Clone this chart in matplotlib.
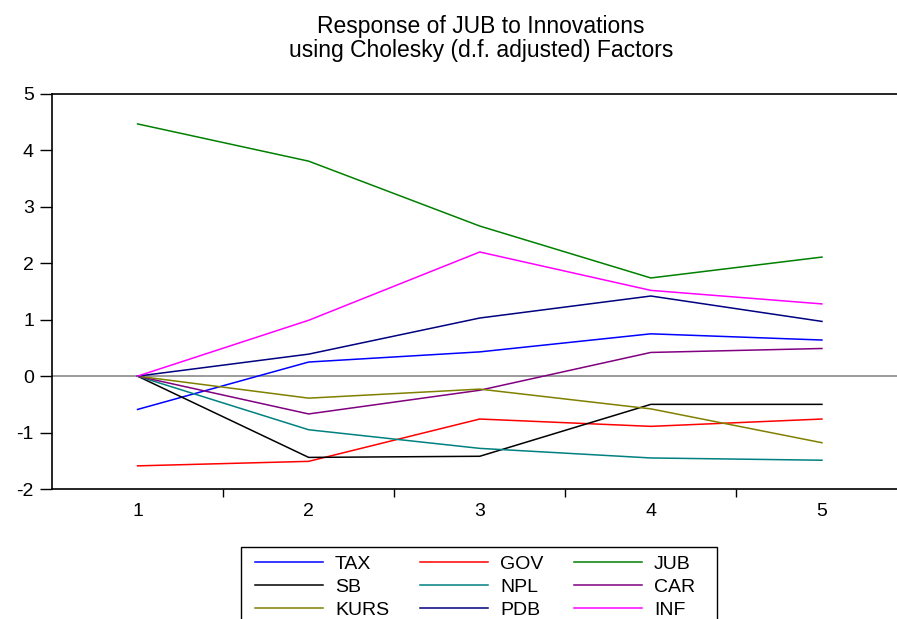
import matplotlib.pyplot as plt
from matplotlib.patches import Rectangle

plt.rcParams['font.family'] = ['Liberation Sans', 'DejaVu Sans']
plt.rcParams['axes.unicode_minus'] = False

# Response periods
periods = [1, 2, 3, 4, 5]

# Impulse responses of JUB
tax = [-0.59, 0.25, 0.43, 0.75, 0.64]
gov = [-1.59, -1.51, -0.76, -0.89, -0.76]
jub = [4.47, 3.81, 2.66, 1.74, 2.11]
sb = [0.0, -1.44, -1.42, -0.50, -0.50]
npl = [0.0, -0.95, -1.28, -1.45, -1.49]
car = [0.0, -0.67, -0.25, 0.42, 0.49]
kurs = [0.0, -0.39, -0.23, -0.58, -1.18]
pdb = [0.0, 0.39, 1.03, 1.42, 0.97]
inf = [0.0, 0.99, 2.20, 1.52, 1.28]

series = [
    ('TAX', tax, '#0000ff'),
    ('GOV', gov, '#ff0000'),
    ('JUB', jub, '#008000'),
    ('SB', sb, '#000000'),
    ('NPL', npl, '#008080'),
    ('CAR', car, '#800080'),
    ('KURS', kurs, '#808000'),
    ('PDB', pdb, '#000080'),
    ('INF', inf, '#ff00ff'),
]

W, H = 897, 619
fig = plt.figure(figsize=(W / 100, H / 100), dpi=100)
ax = fig.add_axes([52 / W, 130 / H, 855.5 / W, 395 / H])

handles = {}
for name, vals, col in series:
    h, = ax.plot(periods, vals, color=col, lw=1.1, label=name)
    handles[name] = h

ax.axhline(0, color='#808080', lw=1.1, zorder=0)

ax.set_xlim(0.5, 5.5)
ax.set_ylim(-2, 5)
ax.set_yticks(range(-2, 6))
ax.set_xticks(periods)
ax.set_xticks([1.5, 2.5, 3.5, 4.5], minor=True)
ax.tick_params(axis='x', which='major', length=0, pad=10, labelsize=14)
ax.tick_params(axis='x', which='minor', length=5.5, width=1, direction='out')
ax.tick_params(axis='y', length=9, width=1, direction='out', labelsize=14, pad=4)
for s in ax.spines.values():
    s.set_linewidth(1.2)
    s.set_color('#000000')

fig.text(0.536, 1 - 27 / H, 'Response of JUB to Innovations', ha='center', va='center', fontsize=16.5)
fig.text(0.536, 1 - 50 / H, 'using Cholesky (d.f. adjusted) Factors', ha='center', va='center', fontsize=16.5)

# legend box runs off the bottom of the figure
fig.patches.append(Rectangle((241 / W, -0.05), (717 - 241) / W, 0.05 + 1 - 547 / H,
                             transform=fig.transFigure, fill=False, edgecolor='#000000',
                             lw=1.0, clip_on=False))

order = ['TAX', 'SB', 'KURS', 'GOV', 'NPL', 'PDB', 'JUB', 'CAR', 'INF']
leg = fig.legend([handles[n] for n in order], order, ncol=3, loc='upper left',
                 bbox_to_anchor=(255 / W, 1 - 555 / H), borderaxespad=0, borderpad=0,
                 fontsize=14, handlelength=3.5, handletextpad=0.62, columnspacing=1.57,
                 labelspacing=0.29, frameon=False)

plt.savefig('out.png', dpi=100)
